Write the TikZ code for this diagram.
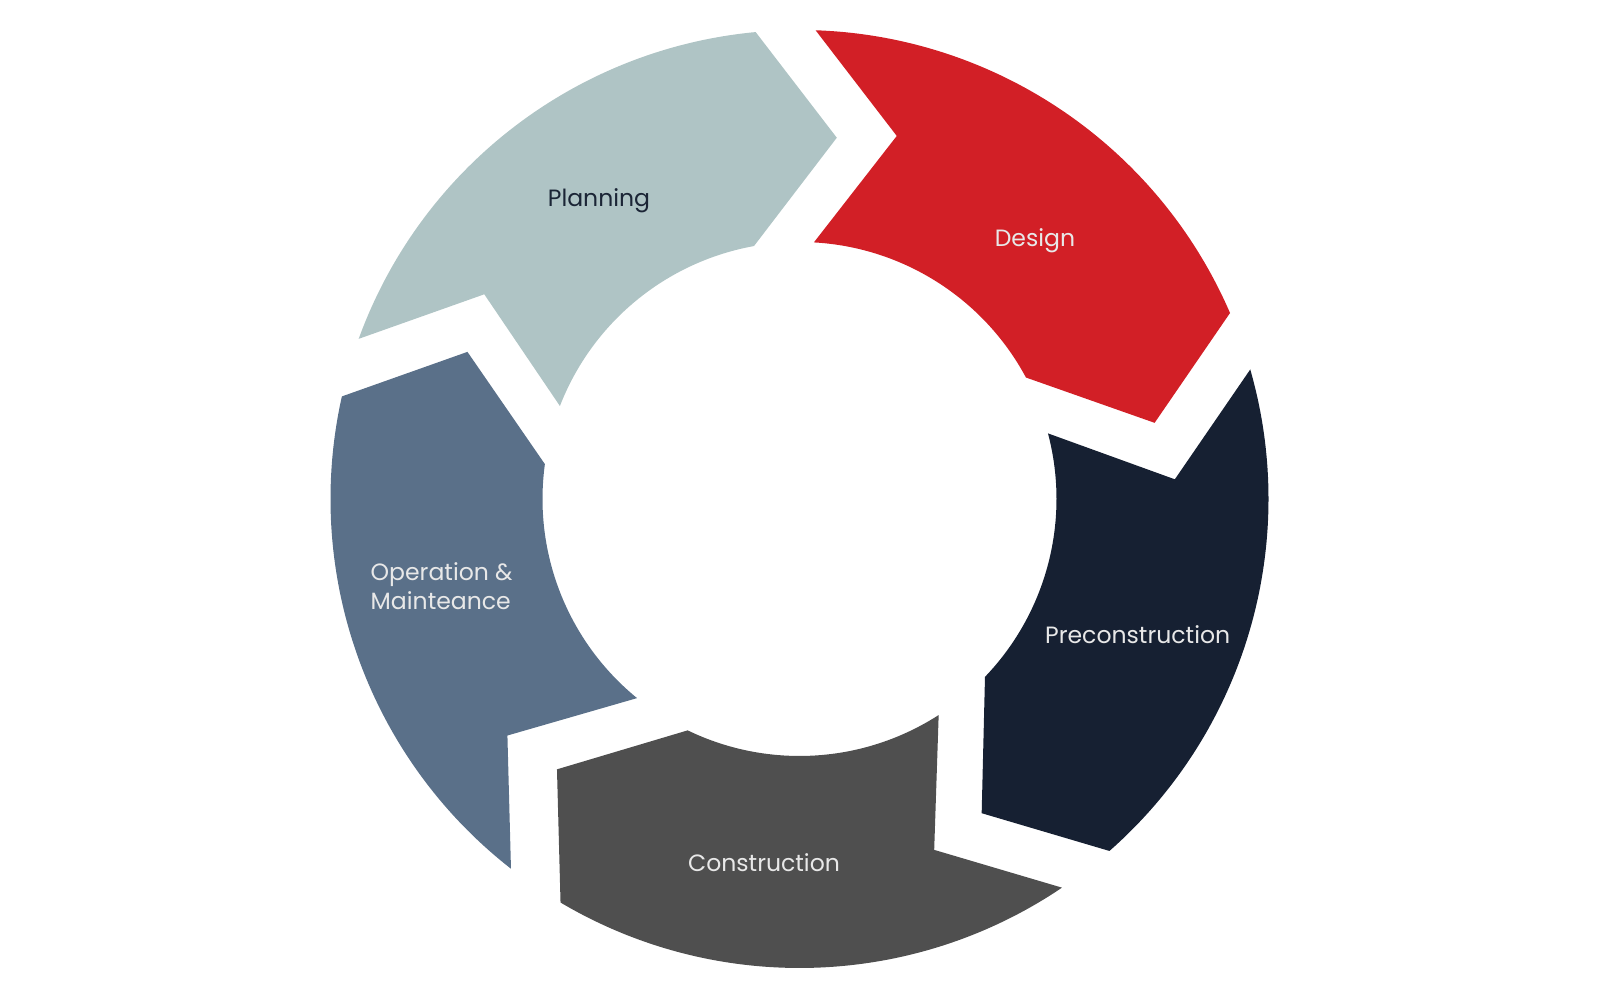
\documentclass[tikz,border=0pt]{standalone}
\usepackage{xcolor}
\usepackage{fontspec}
\setmainfont{Poppins}

\definecolor{planCol}{HTML}{AFC4C5}
\definecolor{designCol}{HTML}{D21F26}
\definecolor{preconCol}{HTML}{162032}
\definecolor{constrCol}{HTML}{4F4F4F}
\definecolor{operCol}{HTML}{5A7089}
\definecolor{lightText}{HTML}{E8E8E8}
\definecolor{darkText}{HTML}{1B2536}

\tikzset{
  phase/.style={fill=#1, draw=none},
  phaselabel/.style={anchor=base, inner sep=0pt, text=lightText,
    font=\fontsize{6.7}{8.5}\selectfont}
}

\begin{document}
\begin{tikzpicture}
\useasboundingbox (-7.995,-5.01) rectangle (8.005,4.99);

\coordinate (O) at (0,0);

% ring pieces: trailing boundary \a, leading boundary \a-72
\foreach \a/\c in {163.7/planCol, 91.7/designCol, 19.7/preconCol, -52.3/constrCol, 235.7/operCol}{
  \pgfmathsetmacro{\b}{\a-72}
  \fill[phase=\c] (\a-3.667:4.69) arc(\a-3.667:\b+3.667:4.69)
    -- (\b-7.595:3.632) -- (\b+8.503:2.57)
    arc(\b+8.503:\a-4.911:2.57) -- (\a-16.699:3.7585) -- cycle;
}

\node[phaselabel, text=darkText] (planning) at (-2.005,2.923) {Planning};
\node[phaselabel] (design) at (2.355,2.52) {Design};
\node[phaselabel] (precon) at (3.382,-1.443) {Preconstruction};
\node[phaselabel] (constr) at (-0.355,-3.724) {Construction};
\node[phaselabel, anchor=base west, align=left] (oper) at (-4.295,-1.11) {Operation \&\\Mainteance};
\end{tikzpicture}
\end{document}
